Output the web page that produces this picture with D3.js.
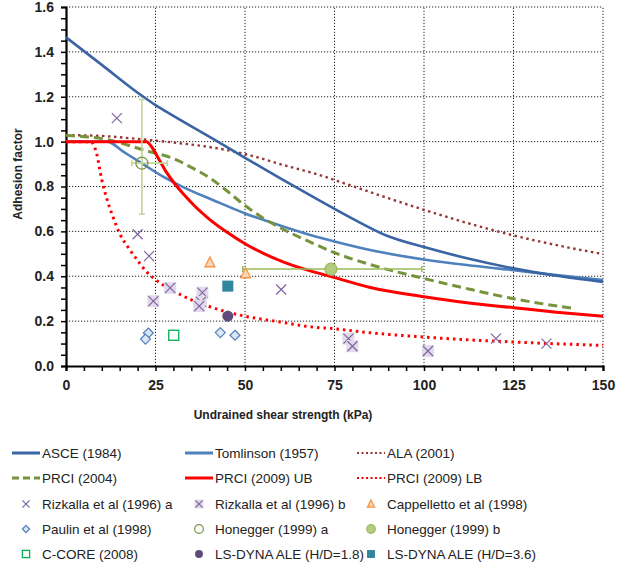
<!DOCTYPE html>
<html>
<head>
<meta charset="utf-8">
<script src="https://cdn.jsdelivr.net/npm/d3@7"></script>
<style>
  body { margin: 0; background: #fff; }
  svg { display: block; font-family: "Liberation Sans", Arial, sans-serif; }
  .grid line { stroke: #222; stroke-dasharray: 1.2,1.8; stroke-width: 1; }
  .axis path, .axis line { stroke: #000; }
  .axis text { font-weight: bold; font-size: 14px; fill: #222; }
</style>
</head>
<body>
<svg id="chart" width="618" height="569"></svg>
<script>
// design curves (x = undrained shear strength kPa, y = adhesion factor)
var asceX = [0, 10, 21.6, 25, 30, 40, 50, 60, 70, 80, 90, 100, 112, 125, 137, 150];
var asceY = [1.465, 1.342, 1.2, 1.163, 1.115, 1.022, 0.928, 0.835, 0.745, 0.657, 0.578, 0.53, 0.48, 0.435, 0.402, 0.375];

var tomlinsonX = [0, 11.5, 16, 21, 27, 33, 41, 50, 60, 68, 75, 87, 100, 112, 125, 137, 150];
var tomlinsonY = [1.0, 1.0, 0.955, 0.905, 0.845, 0.795, 0.74, 0.68, 0.625, 0.585, 0.555, 0.51, 0.475, 0.45, 0.427, 0.405, 0.383];

var alaX = [0, 10, 20, 30, 40, 50, 60, 70, 80, 90, 100, 110, 125, 140, 150];
var alaY = [1.029, 1.025, 1.012, 0.996, 0.976, 0.945, 0.899, 0.855, 0.802, 0.748, 0.696, 0.647, 0.582, 0.529, 0.499];

var prci2004X = [0, 12, 21.6, 31, 35, 40, 45, 50, 55, 60, 68, 75, 85, 100, 112, 125, 142];
var prci2004Y = [1.028, 1.007, 0.963, 0.918, 0.885, 0.84, 0.78, 0.715, 0.66, 0.615, 0.554, 0.505, 0.452, 0.39, 0.345, 0.30, 0.256];

var prciUbX = [0, 22.5, 24, 26, 28, 30, 33, 36, 40, 45, 50, 55, 61, 68, 75, 85, 100, 112, 125, 137, 150];
var prciUbY = [1.0, 1.0, 0.975, 0.92, 0.865, 0.82, 0.763, 0.712, 0.655, 0.596, 0.545, 0.503, 0.462, 0.425, 0.394, 0.35, 0.309, 0.282, 0.26, 0.24, 0.222];

var prciLbX = [0, 7, 8.5, 10, 11.5, 13, 15, 17.5, 20, 22.5, 25, 30, 35, 40, 45, 50, 55, 60, 68, 75, 85, 100, 112, 125, 137, 150];
var prciLbY = [1.0, 1.0, 0.95, 0.83, 0.74, 0.67, 0.59, 0.525, 0.47, 0.42, 0.385, 0.335, 0.295, 0.265, 0.241, 0.222, 0.208, 0.196, 0.175, 0.166, 0.148, 0.129, 0.117, 0.107, 0.099, 0.092];

// test results
var rizkallaAX = [14.2, 20.0, 23.2, 60.1, 120.1, 134.2];
var rizkallaAY = [1.105, 0.587, 0.49, 0.341, 0.122, 0.10];

var rizkallaBX = [24.4, 29.1, 38.1, 37.7, 37.2, 78.9, 80.0, 101.1];
var rizkallaBY = [0.289, 0.348, 0.327, 0.286, 0.267, 0.122, 0.088, 0.067];

var cappellettoX = [40.2, 50.2];
var cappellettoY = [0.462, 0.413];

var paulinX = [23.0, 22.2, 43.1, 47.2];
var paulinY = [0.147, 0.12, 0.149, 0.137];

var honeggerA = { x: 21.2, y: 0.904, xLow: 18.4, xHigh: 28.3, yLow: 0.677, yHigh: 1.188 };
var honeggerB = { x: 74.0, y: 0.432, xLow: 49.4, xHigh: 99.4 };

var ccoreX = [30.1];
var ccoreY = [0.137];

var lsDyna18X = [45.2];
var lsDyna18Y = [0.222];
var lsDyna36X = [45.2];
var lsDyna36Y = [0.356];

var xTicks = [0, 25, 50, 75, 100, 125, 150];
var yTicks = [0, 0.2, 0.4, 0.6, 0.8, 1.0, 1.2, 1.4, 1.6];

var legendNames = ["ASCE (1984)", "Tomlinson (1957)", "ALA (2001)",
    "PRCI (2004)", "PRCI (2009) UB", "PRCI (2009) LB",
    "Rizkalla et al (1996) a", "Rizkalla et al (1996) b", "Cappelletto et al (1998)",
    "Paulin et al (1998)", "Honegger (1999) a", "Honegger (1999) b",
    "C-CORE (2008)", "LS-DYNA ALE (H/D=1.8)", "LS-DYNA ALE (H/D=3.6)"];
var legendKeys = ["asce", "tomlinson", "ala", "prci2004", "prciUb", "prciLb",
    "rizA", "rizB", "cap", "paulin", "honA", "honB", "ccore", "ls18", "ls36"];

var svg = d3.select("#chart");
var plotLeft = 66, plotRight = 603, plotTop = 7, plotBottom = 366;

var x = d3.scaleLinear().domain([0, 150]).range([plotLeft, plotRight]);
var y = d3.scaleLinear().domain([0, 1.6]).range([plotBottom, plotTop]);

var lineStyles = {
    asce:      { color: "#3A64A4", width: 2.6, dash: null },
    tomlinson: { color: "#4F81BD", width: 2.6, dash: null },
    ala:       { color: "#953735", width: 2.4, dash: "2.5,3.5" },
    prci2004:  { color: "#77933C", width: 3, dash: "9,5" },
    prciUb:    { color: "#FF0000", width: 3, dash: null },
    prciLb:    { color: "#FF0000", width: 3, dash: "2.5,4" }
};

// gridlines
var grid = svg.append("g").attr("class", "grid");
grid.selectAll(".gx").data(xTicks.slice(1)).enter().append("line")
    .attr("x1", function(d) { return x(d); }).attr("x2", function(d) { return x(d); })
    .attr("y1", plotBottom).attr("y2", plotTop);
grid.selectAll(".gy").data(yTicks.slice(1)).enter().append("line")
    .attr("y1", function(d) { return y(d); }).attr("y2", function(d) { return y(d); })
    .attr("x1", plotLeft).attr("x2", plotRight);

// axes, minor ticks every 5 kPa and 0.05
var xAxis = d3.axisBottom(x)
    .tickValues(d3.range(0, 31).map(function(i) { return i * 5; }))
    .tickSize(5).tickPadding(9)
    .tickFormat(function(d) { return d % 25 === 0 ? d : ""; });
var yAxis = d3.axisLeft(y)
    .tickValues(d3.range(0, 33).map(function(i) { return i * 0.05; }))
    .tickSize(5).tickPadding(7)
    .tickFormat(function(d, i) { return i % 4 === 0 ? d3.format(".1f")(d) : ""; });

svg.append("g").attr("class", "axis").attr("transform", "translate(0," + plotBottom + ")").call(xAxis)
    .call(function(g) { g.select(".domain").attr("stroke-width", 2.2); g.selectAll(".tick line").attr("stroke-width", 1.5); });
svg.append("g").attr("class", "axis").attr("transform", "translate(" + plotLeft + ",0)").call(yAxis)
    .call(function(g) { g.select(".domain").attr("stroke-width", 2.2); g.selectAll(".tick line").attr("stroke-width", 1.5); });

// axis titles
svg.append("text").attr("x", 283).attr("y", 419).attr("text-anchor", "middle")
    .attr("font-weight", "bold").attr("font-size", 12).attr("fill", "#222")
    .text("Undrained shear strength (kPa)");
svg.append("text").attr("transform", "translate(22,174) rotate(-90)").attr("text-anchor", "middle")
    .attr("font-weight", "bold").attr("font-size", 12).attr("fill", "#222")
    .text("Adhesion factor");

var line = d3.line()
    .x(function(d) { return x(d[0]); })
    .y(function(d) { return y(d[1]); })
    .curve(d3.curveMonotoneX);

function drawCurve(xs, ys, key) {
    var s = lineStyles[key];
    svg.append("path")
        .datum(d3.zip(xs, ys))
        .attr("d", line)
        .attr("fill", "none")
        .attr("stroke", s.color)
        .attr("stroke-width", s.width)
        .attr("stroke-dasharray", s.dash);
}

drawCurve(prciLbX, prciLbY, "prciLb");
drawCurve(alaX, alaY, "ala");
drawCurve(tomlinsonX, tomlinsonY, "tomlinson");
drawCurve(asceX, asceY, "asce");
drawCurve(prci2004X, prci2004Y, "prci2004");
drawCurve(prciUbX, prciUbY, "prciUb");

// error bars
function errBar(g, x1, y1, x2, y2, color, cap, vertical) {
    g.append("line").attr("x1", x1).attr("y1", y1).attr("x2", x2).attr("y2", y2)
        .attr("stroke", color).attr("stroke-width", 1.6);
    [[x1, y1], [x2, y2]].forEach(function(p) {
        if (vertical) {
            g.append("line").attr("x1", p[0] - cap).attr("x2", p[0] + cap).attr("y1", p[1]).attr("y2", p[1])
                .attr("stroke", color).attr("stroke-width", 1.6);
        } else {
            g.append("line").attr("x1", p[0]).attr("x2", p[0]).attr("y1", p[1] - cap).attr("y2", p[1] + cap)
                .attr("stroke", color).attr("stroke-width", 1.6);
        }
    });
}
var eb = svg.append("g");
errBar(eb, x(honeggerA.x), y(honeggerA.yLow), x(honeggerA.x), y(honeggerA.yHigh), "#C3D69B", 3, true);
errBar(eb, x(honeggerA.xLow), y(honeggerA.y), x(honeggerA.xHigh), y(honeggerA.y), "#C3D69B", 3, false);
errBar(eb, x(honeggerB.xLow), y(honeggerB.y), x(honeggerB.xHigh), y(honeggerB.y), "#9BBB59", 3, false);

// markers
function marker(g, key, cx, cy, sc) {
    var s = sc || 1, h;
    if (key === "rizA" || key === "rizB") {
        if (key === "rizB") {
            g.append("rect").attr("x", cx - 6 * s).attr("y", cy - 6 * s).attr("width", 12 * s).attr("height", 12 * s)
                .attr("fill", "#E0DAEA");
        }
        h = 5 * s;
        g.append("path").attr("d", "M" + (cx - h) + "," + (cy - h) + "L" + (cx + h) + "," + (cy + h) +
                "M" + (cx - h) + "," + (cy + h) + "L" + (cx + h) + "," + (cy - h))
            .attr("stroke", "#8064A2").attr("stroke-width", 1.2).attr("fill", "none");
    } else if (key === "cap") {
        h = 5.5 * s;
        g.append("path").attr("d", "M" + cx + "," + (cy - h) + "L" + (cx + h * 0.9) + "," + (cy + h * 0.8) +
                "L" + (cx - h * 0.9) + "," + (cy + h * 0.8) + "Z")
            .attr("fill", "#FCD5B5").attr("stroke", "#F79646").attr("stroke-width", 1.3);
    } else if (key === "paulin") {
        h = 5 * s;
        g.append("path").attr("d", "M" + cx + "," + (cy - h) + "L" + (cx + h) + "," + cy +
                "L" + cx + "," + (cy + h) + "L" + (cx - h) + "," + cy + "Z")
            .attr("fill", "#DCE6F2").attr("stroke", "#4F81BD").attr("stroke-width", 1.2);
    } else if (key === "honA") {
        g.append("circle").attr("cx", cx).attr("cy", cy).attr("r", 6 * s)
            .attr("fill", "none").attr("stroke", "#77933C").attr("stroke-width", 1.2);
    } else if (key === "honB") {
        g.append("circle").attr("cx", cx).attr("cy", cy).attr("r", 6 * s)
            .attr("fill", "#B5CC80").attr("stroke", "#9BBB59").attr("stroke-width", 1.2);
    } else if (key === "ccore") {
        h = 5 * s;
        g.append("rect").attr("x", cx - h).attr("y", cy - h).attr("width", 2 * h).attr("height", 2 * h)
            .attr("fill", "#fff").attr("stroke", "#00B050").attr("stroke-width", 1.3);
    } else if (key === "ls18") {
        g.append("circle").attr("cx", cx).attr("cy", cy).attr("r", 5.5 * s).attr("fill", "#604A7B");
    } else if (key === "ls36") {
        h = 5.5 * s;
        g.append("rect").attr("x", cx - h).attr("y", cy - h).attr("width", 2 * h).attr("height", 2 * h)
            .attr("fill", "#31859C");
    }
}

var pts = svg.append("g");
function drawPoints(xs, ys, key) {
    xs.forEach(function(v, i) { marker(pts, key, x(v), y(ys[i])); });
}
drawPoints(rizkallaBX, rizkallaBY, "rizB");
drawPoints(rizkallaAX, rizkallaAY, "rizA");
drawPoints(cappellettoX, cappellettoY, "cap");
drawPoints(paulinX, paulinY, "paulin");
drawPoints([honeggerA.x], [honeggerA.y], "honA");
drawPoints([honeggerB.x], [honeggerB.y], "honB");
drawPoints(ccoreX, ccoreY, "ccore");
drawPoints(lsDyna18X, lsDyna18Y, "ls18");
drawPoints(lsDyna36X, lsDyna36Y, "ls36");

// legend, 3 columns
var colX = [12, 185, 357], rowY = [453, 478, 504, 529, 554];
var legend = svg.append("g");
legendKeys.forEach(function(key, i) {
    var lx = colX[i % 3], ly = rowY[Math.floor(i / 3)];
    var s = lineStyles[key];
    if (s) {
        legend.append("line").attr("x1", lx).attr("x2", lx + 28).attr("y1", ly).attr("y2", ly)
            .attr("stroke", s.color).attr("stroke-width", key === "ala" || key === "prciLb" ? 2 : 3)
            .attr("stroke-dasharray", key === "ala" || key === "prciLb" ? "2,2.5" : (key === "prci2004" ? "7,4" : null));
    } else {
        marker(legend, key, lx + 14, ly, 0.72);
    }
    legend.append("text").attr("x", lx + 30).attr("y", ly).attr("dy", "0.36em")
        .attr("font-size", 13.5).attr("fill", "#222")
        .text(legendNames[i]);
});
</script>
</body>
</html>
